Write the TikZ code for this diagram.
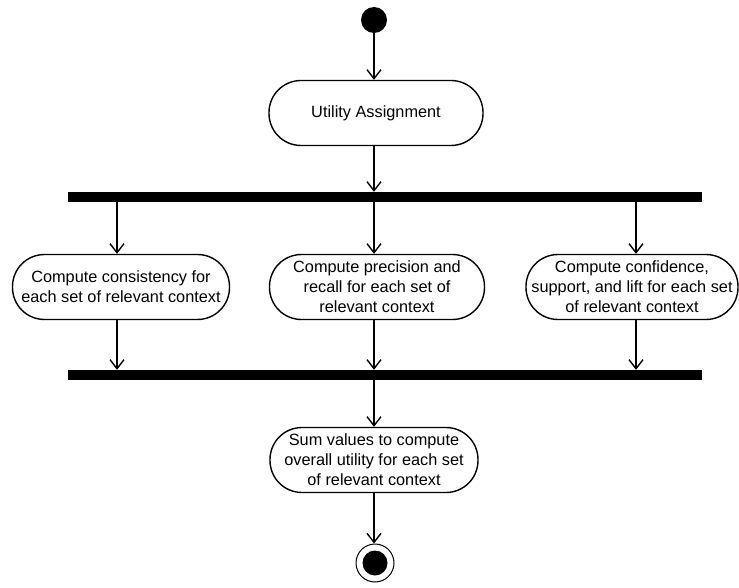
\documentclass[tikz,border=0pt]{standalone}
\usepackage{fontspec}
\setmainfont{Liberation Sans}
\usetikzlibrary{arrows.meta}
\begin{document}
\begin{tikzpicture}[x=1pt,y=-1pt,
  flow/.style={line width=1.4pt,-{Straight Barb[length=9pt,width=14pt,line width=1.4pt]}},
  activity/.style={draw,line width=1.4pt,rounded corners=32pt,minimum height=65pt,
    align=center,inner sep=2pt,font=\fontsize{16.3pt}{20pt}\selectfont},
  bar/.style={fill=black,inner sep=0pt,minimum height=10pt,minimum width=634pt},
  startdot/.style={circle,fill=black,inner sep=0pt,minimum size=26pt},
  enddot/.style={circle,draw,line width=1pt,inner sep=0pt,minimum size=38pt,
    path picture={\fill[black] (path picture bounding box.center) circle (12.5pt);}}]
\useasboundingbox (0,0) rectangle (739,588);

\node[startdot] (start) at (374,20) {};
\node[activity,minimum width=214pt] (util) at (376,113) {Utility Assignment};
\node[bar] (fork) at (385,197) {};

\node[activity,minimum width=217pt] (c1) at (121,287)
  {Compute consistency for\\each set of relevant context};
\node[activity,minimum width=215pt] (c2) at (377,287)
  {Compute precision and\\recall for each set of\\relevant context};
\node[activity,minimum width=212pt] (c3) at (632,287)
  {Compute confidence,\\support, and lift for each set\\of relevant context};

\node[bar] (join) at (385,375) {};
\node[activity,minimum width=208pt] (sum) at (374,460)
  {Sum values to compute\\overall utility for each set\\of relevant context};
\node[enddot] (end) at (375,563) {};

\coordinate (a0) at (374,0);
\coordinate (a1) at (117,0);
\coordinate (a3) at (636,0);

\draw[flow] (start.south) -- (a0 |- util.north);
\draw[flow] (a0 |- util.south) -- (a0 |- fork.north);
\draw[flow] (a1 |- fork.south) -- (a1 |- c1.north);
\draw[flow] (a0 |- fork.south) -- (a0 |- c2.north);
\draw[flow] (a3 |- fork.south) -- (a3 |- c3.north);
\draw[flow] (a1 |- c1.south) -- (a1 |- join.north);
\draw[flow] (a0 |- c2.south) -- (a0 |- join.north);
\draw[flow] (a3 |- c3.south) -- (a3 |- join.north);
\draw[flow] (a0 |- join.south) -- (a0 |- sum.north);
\draw[flow] (a0 |- sum.south) -- (a0 |- end.north);
\end{tikzpicture}
\end{document}
